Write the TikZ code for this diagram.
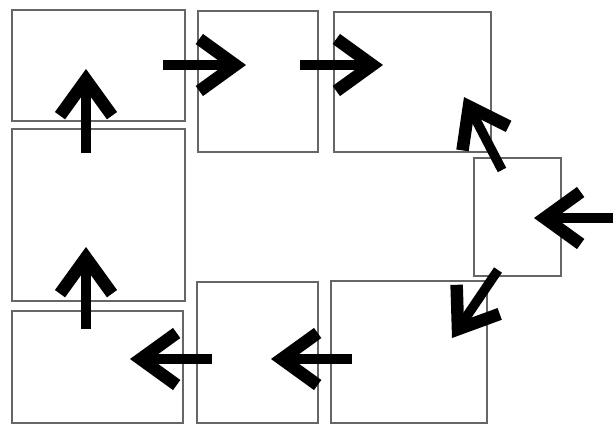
\documentclass[tikz,border=0pt]{standalone}
\usetikzlibrary{arrows.meta}
\begin{document}
\begin{tikzpicture}[x=1pt,y=-1pt,
  box/.style={draw=black!60,line width=1.6pt,inner sep=0pt,outer sep=0pt,fill=none},
  flow/.style={line width=9.5pt,-{Straight Barb[length=36pt,width=52pt,line width=12.5pt]}}]
\useasboundingbox (0,0) rectangle (613,424);
\newcommand{\bx}[5]{\node[box,minimum width={#4-#2},minimum height={#5-#3}] (#1) at ({(#2+#4)/2},{(#3+#5)/2}) {};}
\bx{b1}{12}{10}{185}{121}
\bx{b2}{12}{129}{185}{301}
\bx{b3}{12}{311}{183}{423}
\bx{b4}{198}{11}{318}{152}
\bx{b5}{334}{12}{491}{152}
\bx{b6}{474}{158}{561}{276}
\bx{b7}{197}{282}{318}{423}
\bx{b8}{331}{281}{487}{423}
% arrow ends
\coordinate (t1) at (86,153); \coordinate (h1) at (86,69);
\coordinate (t2) at (86,329); \coordinate (h2) at (86,247);
\coordinate (t3) at (163,65); \coordinate (h3) at (246,65);
\coordinate (t4) at (300,65); \coordinate (h4) at (383,65);
\coordinate (t5) at (502,170); \coordinate (h5) at (464,97);
\coordinate (t6) at (616,218); \coordinate (h6) at (534,218);
\coordinate (t7) at (498,270); \coordinate (h7) at (452,338);
\coordinate (t8) at (352,359); \coordinate (h8) at (271,359);
\coordinate (t9) at (212,359); \coordinate (h9) at (130,359);
\foreach \i in {1,...,9} {\draw[flow] (t\i) -- (h\i);}
\end{tikzpicture}
\end{document}
